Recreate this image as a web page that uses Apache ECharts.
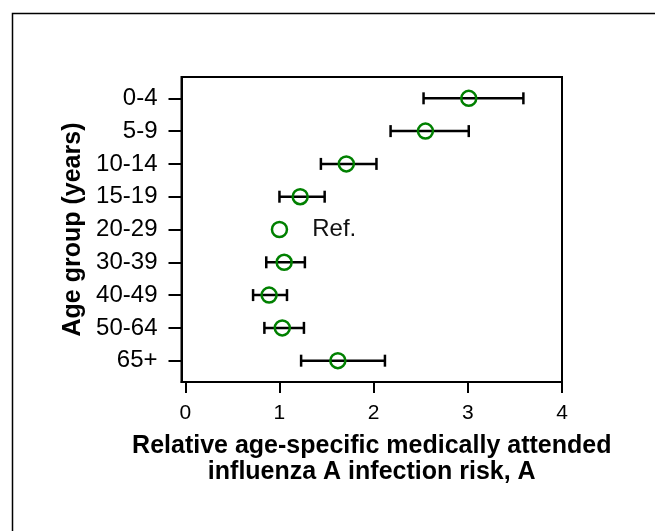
<!DOCTYPE html>
<html>
<head>
<meta charset="utf-8">
<script src="https://cdn.jsdelivr.net/npm/echarts@6/dist/echarts.min.js"></script>
<style>
html, body { margin: 0; padding: 0; background: #fff; }
#chart { width: 655px; height: 531px; }
</style>
</head>
<body>
<div id="chart"></div>
<script>
// age groups, top to bottom
var ageGroups = ['0-4', '5-9', '10-14', '15-19', '20-29', '30-39', '40-49', '50-64', '65+'];
// relative risk estimate and 95% interval (20-29 is the reference group)
var riskEst  = [3.01, 2.55, 1.71, 1.22, 1.00, 1.05, 0.89, 1.03, 1.62];
var riskLow  = [2.53, 2.18, 1.44, 1.00, null, 0.86, 0.72, 0.84, 1.23];
var riskHigh = [3.59, 3.01, 2.03, 1.48, null, 1.27, 1.08, 1.26, 2.12];
var xTicks = [0, 1, 2, 3, 4];
var refGroup = '20-29';

var rowIdx = ageGroups.map(function (g, i) { return i; });

var barData = [];
var pointData = [];
ageGroups.forEach(function (g, i) {
  if (riskLow[i] != null) barData.push([riskLow[i], riskHigh[i], i]);
  var item = { value: [riskEst[i], i] };
  if (g === refGroup) {
    item.label = {
      show: true, formatter: 'Ref.', position: 'right', distance: 24,
      fontSize: 24, color: '#111', fontFamily: 'Liberation Sans, Arial, sans-serif'
    };
  }
  pointData.push(item);
});

function errorBar(params, api) {
  var lo = api.coord([api.value(0), api.value(2)]);
  var hi = api.coord([api.value(1), api.value(2)]);
  var cap = 6;
  var st = { stroke: '#000', lineWidth: 2.5 };
  return {
    type: 'group',
    children: [
      { type: 'line', shape: { x1: lo[0], y1: lo[1], x2: hi[0], y2: hi[1] }, style: st },
      { type: 'line', shape: { x1: lo[0], y1: lo[1] - cap, x2: lo[0], y2: lo[1] + cap }, style: st },
      { type: 'line', shape: { x1: hi[0], y1: hi[1] - cap, x2: hi[0], y2: hi[1] + cap }, style: st }
    ]
  };
}

var font = 'Liberation Sans, Arial, Helvetica, sans-serif';
var chart = echarts.init(document.getElementById('chart'));
chart.setOption({
  animation: false,
  textStyle: { fontFamily: font },
  graphic: [{
    type: 'rect',
    shape: { x: 12.5, y: 13.5, width: 700, height: 600 },
    style: { fill: 'none', stroke: '#000', lineWidth: 1.5 }
  }],
  grid: {
    left: 181.5, top: 77, right: 93, bottom: 149,
    show: true, borderColor: '#000', borderWidth: 2, backgroundColor: 'transparent'
  },
  xAxis: {
    type: 'value',
    min: -0.04, max: 4,
    splitLine: { show: false },
    axisLine: { onZero: false, lineStyle: { color: '#000', width: 2 } },
    axisTick: { customValues: xTicks, length: 11, lineStyle: { color: '#000', width: 2 } },
    axisLabel: { customValues: xTicks, margin: 21, fontSize: 21, color: '#000', fontFamily: font },
    name: 'Relative age-specific medically attended\ninfluenza A infection risk, A',
    nameLocation: 'middle',
    nameGap: 51,
    nameTextStyle: { fontSize: 25, fontWeight: 'bold', color: '#000', lineHeight: 26, fontFamily: font }
  },
  yAxis: {
    type: 'value',
    inverse: true,
    min: -0.65, max: 8.65,
    splitLine: { show: false },
    axisLine: { onZero: false, lineStyle: { color: '#000', width: 2 } },
    axisTick: { customValues: rowIdx, length: 13, lineStyle: { color: '#000', width: 2 } },
    axisLabel: {
      customValues: rowIdx, margin: 24, fontSize: 24, color: '#000', fontFamily: font,
      formatter: function (v) { return ageGroups[Math.round(v)]; }
    },
    name: 'Age group (years)',
    nameLocation: 'middle',
    nameRotate: 90,
    nameGap: 81,
    nameTextStyle: { fontSize: 25, fontWeight: 'bold', color: '#000', fontFamily: font }
  },
  series: [{
    type: 'custom',
    renderItem: errorBar,
    data: barData,
    encode: { x: [0, 1], y: 2 },
    z: 2
  }, {
    type: 'scatter',
    data: pointData,
    symbol: 'circle',
    symbolSize: 15,
    itemStyle: { color: 'rgba(0,0,0,0)', borderColor: '#008000', borderWidth: 2.5, opacity: 1 },
    z: 3
  }]
});
</script>
</body>
</html>
